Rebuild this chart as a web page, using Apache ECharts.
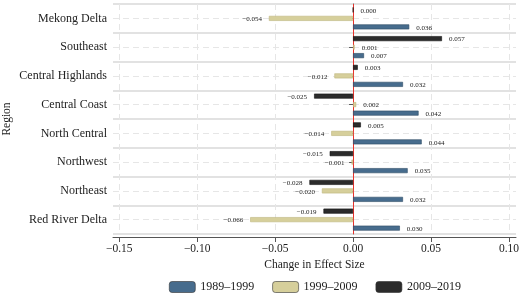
<!DOCTYPE html>
<html>
<head>
<meta charset="utf-8">
<script src="https://cdn.jsdelivr.net/npm/echarts@6/dist/echarts.min.js"></script>
<style>
  html, body { margin: 0; padding: 0; background: #fff; }
  #chart { width: 520px; height: 295px; }
</style>
</head>
<body>
<div id="chart"></div>
<script>
const regions = ["Mekong Delta", "Southeast", "Central Highlands", "Central Coast",
  "North Central", "Northwest", "Northeast", "Red River Delta"];
const d1989 = [0.036, 0.007, 0.032, 0.042, 0.044, 0.035, 0.032, 0.030];
const d1999 = [-0.054, 0.001, -0.012, 0.002, -0.014, -0.001, -0.020, -0.066];
const d2009 = [0.000, 0.057, 0.003, -0.025, 0.005, -0.015, -0.028, -0.019];
const xTicks = [-0.15, -0.10, -0.05, 0.00, 0.05, 0.10];

const font = "'Liberation Serif', 'DejaVu Serif', serif";
const xMin = -0.154, xMax = 0.1045;

function fmt(v) {
  const s = Math.abs(v).toFixed(3);
  return v < 0 ? "\u2212" + s : s;
}

function makeSeries(name, values, color, border) {
  return {
    name: name,
    type: "bar",
    barWidth: 5,
    barGap: "70%",
    z: 3,
    itemStyle: { color: color, borderColor: border, borderWidth: 0.6 },
    label: {
      show: true,
      fontFamily: font,
      fontSize: 7,
      color: "#222",
      distance: 7,
      offset: [0, 1],
      formatter: p => fmt(p.value)
    },
    data: values.map(v => ({
      value: v,
      label: { position: v < 0 ? "left" : "right" }
    }))
  };
}

const chart = echarts.init(document.getElementById("chart"));

// black on top of each group, blue at the bottom
const bars = [
  makeSeries("2009\u20132019", d2009, "#2b2b2b", "#111"),
  makeSeries("1999\u20132009", d1999, "#d6cf9b", "#bdb57e"),
  makeSeries("1989\u20131999", d1989, "#476c8d", "#2c4a63")
];

// reference lines: dashed line through each region, red line at zero
const guides = {
  type: "scatter",
  data: [],
  z: 1,
  silent: true,
  markLine: {
    symbol: "none",
    silent: true,
    z: 1,
    label: { show: false },
    animation: false,
    data: regions.map(r => ([
      { coord: [xMin, r], lineStyle: { color: "#e6e6e6", type: [6, 4], width: 1 } },
      { coord: [xMax, r] }
    ])).concat([{ xAxis: 0, lineStyle: { color: "#e8322b", type: "solid", width: 1 } }])
  }
};

chart.setOption({
  animation: false,
  textStyle: { fontFamily: font },
  grid: { left: 113, right: 4, top: 4, bottom: 61, outerBoundsMode: "none" },
  legend: {
    left: 169,
    bottom: 2,
    padding: 0,
    itemWidth: 26,
    itemHeight: 11,
    itemGap: 18,
    textStyle: { fontFamily: font, fontSize: 12, color: "#222" },
    data: ["1989\u20131999", "1999\u20132009", "2009\u20132019"].map(n => ({
      name: n, itemStyle: { borderColor: "#333", borderWidth: 0.6 }
    }))
  },
  xAxis: {
    type: "value",
    min: xMin,
    max: xMax,
    offset: 3,
    name: "Change in Effect Size",
    nameLocation: "middle",
    nameGap: 22,
    nameMoveOverlap: false,
    nameTextStyle: { fontFamily: font, fontSize: 11.5, color: "#222" },
    axisLine: { show: true, lineStyle: { color: "#555" } },
    axisTick: { show: true, length: 5, customValues: xTicks, lineStyle: { color: "#555" } },
    axisLabel: {
      customValues: xTicks,
      fontFamily: font,
      fontSize: 11.5,
      color: "#222",
      margin: 6,
      formatter: v => fmt(v).replace(/(\.\d\d)\d$/, "$1")
    },
    splitLine: { show: true, lineStyle: { color: "#e6e6e6", type: [6, 4] } }
  },
  yAxis: {
    type: "category",
    data: regions,
    inverse: true,
    name: "Region",
    nameLocation: "middle",
    nameGap: 100,
    nameMoveOverlap: false,
    nameTextStyle: { fontFamily: font, fontSize: 11.5, color: "#222" },
    axisLine: { show: true, lineStyle: { color: "#555" } },
    axisTick: { show: true, alignWithLabel: true, length: 4, lineStyle: { color: "#555" } },
    axisLabel: { fontFamily: font, fontSize: 12, color: "#222", margin: 6 },
    splitLine: { show: true, lineStyle: { color: "#e2e2e2", width: 2 } }
  },
  series: bars.concat([guides])
});
</script>
</body>
</html>
